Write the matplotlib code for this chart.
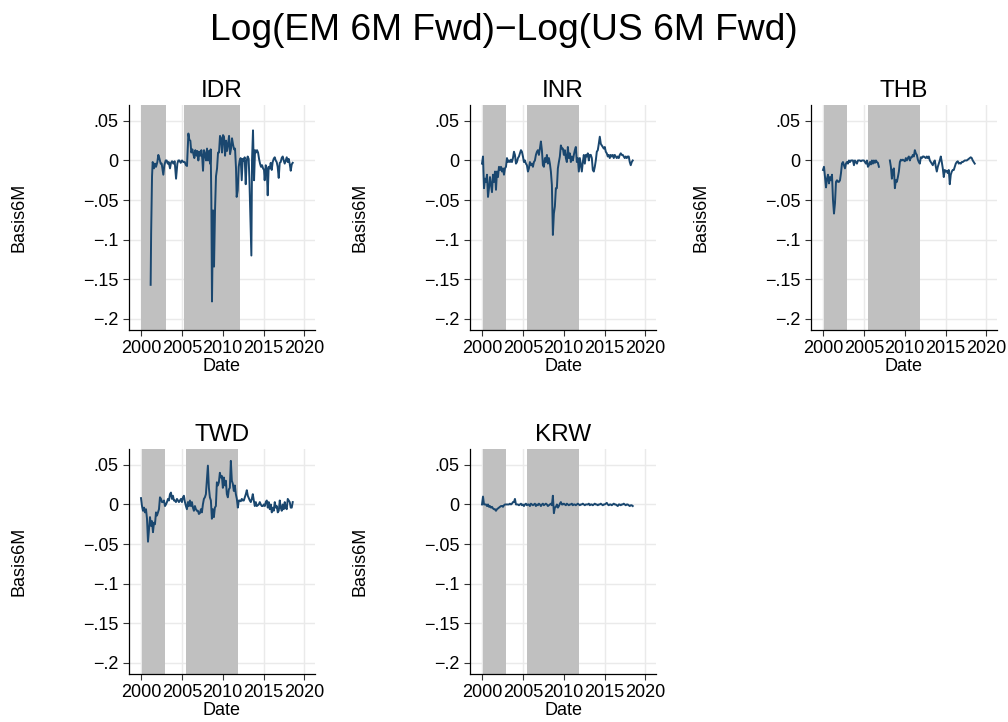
import numpy as np
import matplotlib
matplotlib.use("Agg")
import matplotlib.pyplot as plt

plt.rcParams['font.family'] = ['Liberation Sans', 'DejaVu Sans']

# ---- data ----
# IDR: irregular sample times (decimal years)
idr_t = [2001.18, 2001.24, 2001.35, 2001.43, 2001.51, 2001.59, 2001.71, 2001.84, 2002.0, 2002.12,
         2002.24, 2002.41, 2002.53, 2002.73, 2002.86, 2003.02, 2003.14, 2003.27, 2003.39, 2003.55,
         2003.67, 2003.8, 2003.96, 2004.12, 2004.29, 2004.45, 2004.57, 2004.69, 2004.86, 2005.02,
         2005.18, 2005.35, 2005.51, 2005.63, 2005.8, 2005.92, 2006.04, 2006.16, 2006.29, 2006.41,
         2006.53, 2006.65, 2006.78, 2006.9, 2007.02, 2007.14, 2007.27, 2007.39, 2007.51, 2007.59,
         2007.71, 2007.84, 2007.96, 2008.08, 2008.2, 2008.33, 2008.45, 2008.53, 2008.61, 2008.69,
         2008.82, 2008.94, 2009.06, 2009.18, 2009.31, 2009.43, 2009.55, 2009.67, 2009.8, 2009.92,
         2010.04, 2010.16, 2010.29, 2010.41, 2010.53, 2010.65, 2010.78, 2010.9, 2011.02, 2011.14,
         2011.27, 2011.39, 2011.51, 2011.63, 2011.71, 2011.84, 2011.96, 2012.08, 2012.2, 2012.33,
         2012.45, 2012.57, 2012.69, 2012.82, 2012.94, 2013.06, 2013.18, 2013.27, 2013.39, 2013.51,
         2013.59, 2013.71, 2013.84, 2013.96, 2014.08, 2014.2, 2014.33, 2014.45, 2014.57, 2014.69,
         2014.82, 2014.94, 2015.06, 2015.14, 2015.27, 2015.39, 2015.51, 2015.63, 2015.76, 2015.88,
         2016.0, 2016.12, 2016.24, 2016.37, 2016.49, 2016.61, 2016.73, 2016.86, 2016.98, 2017.1,
         2017.22, 2017.35, 2017.47, 2017.59, 2017.71, 2017.84, 2017.96, 2018.08, 2018.2, 2018.33,
         2018.45, 2018.57]
idr_v = [-.157, -.092, -.020, -.002, -.006, -.010, -.004, -.008, -.002, .007,
         .003, -.004, -.004, -.018, -.006, 0, 0, -.004, -.002, -.010,
         -.003, -.001, -.004, -.001, -.023, -.004, 0, 0, -.003, 0,
         -.002, -.002, -.006, -.007, .034, .026, .025, .010, .014, .008,
         .003, .013, .006, .012, 0, .011, .006, .013, .001, -.013,
         .013, .008, 0, .015, 0, .012, -.004, .014, -.05, -.178,
         -.063, -.134, -.063, -.020, -.010, .010, .010, .031, .028, .010,
         .032, .030, .006, .025, .012, .020, .031, .008, .015, .028,
         .020, .014, .015, -.010, -.046, -.038, -.008, 0, .003, -.025,
         .002, 0, .004, -.030, 0, .005, .002, -.024, -.07, -.120,
         0, .038, -.025, .013, .010, .013, .010, .002, -.004, -.008,
         -.006, -.010, -.012, -.025, -.006, -.010, -.044, -.008, -.010, -.003,
         -.012, -.002, .002, .004, 0, -.002, -.008, -.022, -.003, -.002,
         .003, .005, 0, -.004, 0, .004, -.002, .002, -.004, -.013,
         -.005, -.003]

# the other four currencies are sampled on a regular grid from 2000.0
step = 0.1222

inr_v = [-.004, .005, -.035, -.023, -.027, -.018, -.046, -.035, -.021, -.031,
         -.040, -.018, -.027, -.014, -.037, -.014, -.021, -.008, -.012, -.008,
         -.014, -.010, -.018, -.010, -.008, .003, -.002, 0, -.002, .001,
         -.002, .003, .011, .007, -.004, -.002, .003, .005, .009, .013,
         .011, .005, -.002, 0, -.004, -.006, -.014, -.010, -.002, -.006,
         -.004, -.008, -.002, 0, .007, .011, .013, .007, .015, .024,
         .013, -.006, -.008, .003, -.002, .007, -.004, .003, -.004, -.014,
         -.031, -.094, -.067, -.058, -.035, -.035, -.010, -.002, .005, .019,
         .015, .015, .007, .013, .003, -.002, .017, .003, .009, -.002,
         .005, 0, .007, .013, .017, -.002, .003, -.014, .003, -.006,
         -.014, -.002, .007, -.004, .007, .005, .009, 0, .007, .007,
         .003, -.012, -.014, -.008, 0, .011, .013, .021, .030, .021,
         .019, .017, .015, .017, .011, .009, .005, .007, .003, .007,
         .005, .007, .003, .007, .005, .003, .005, .003, .007, .009,
         .007, .007, .005, .003, .005, .003, .005, .005, -.002, -.006,
         -.002, 0]

nan = np.nan
thb_v = [-.012, -.008, -.021, -.034, -.023, -.018, -.029, -.021, -.025, -.018,
         -.050, -.067, -.054, -.027, -.025, -.027, -.027, -.025, -.016, -.004,
         -.002, -.006, -.010, -.004, -.002, -.004, 0, -.002, 0, 0,
         0, -.006, 0, -.002, -.004, 0, 0, 0, -.001, 0,
         0, 0, -.002, -.004, 0, -.008, -.006, -.002, -.005, 0,
         -.004, 0, -.003, 0, -.002, -.003, -.008, nan, nan, nan,
         nan, nan, nan, nan, nan, nan, nan, 0, -.008, -.023,
         -.012, -.010, -.035, -.025, -.027, -.021, -.014, -.002, .001, 0,
         .001, 0, -.001, .003, 0, .003, .005, 0, .004, .004,
         .007, .005, .013, .009, .007, .001, -.002, -.004, .004, .003,
         .005, .005, .004, .003, .005, .003, .005, 0, -.002, -.004,
         -.006, -.002, 0, -.008, -.014, -.008, -.004, 0, .005, -.002,
         -.010, -.021, -.012, -.014, -.013, -.016, -.012, -.030, -.018, -.014,
         -.012, -.012, -.008, -.004, -.002, -.001, -.004, -.003, -.004, -.002,
         -.002, -.001, 0, 0, 0, .001, .002, .003, .004, .003,
         0, -.002, -.004]

twd_v = [.008, -.002, -.008, -.004, -.010, -.006, -.018, -.047, -.031, -.016,
         -.027, -.021, -.035, -.023, -.025, -.010, -.014, -.010, -.006, .009,
         .007, .003, .003, .005, -.002, 0, .003, .007, .005, .013,
         .015, .007, .011, .005, .005, .003, .007, .005, .003, .005,
         .007, .003, .009, .011, .003, -.002, -.006, .003, -.002, .005,
         -.002, .003, -.004, -.008, -.002, -.006, -.008, -.008, -.012, -.011,
         -.006, -.010, 0, .007, .009, .013, .031, .049, .021, .009,
         .005, -.018, -.006, -.016, -.004, -.002, .028, .024, .028, .040,
         .034, .036, .021, .034, .024, .030, .013, .009, .019, .021,
         .055, .030, .026, .017, .024, .013, .007, -.004, .005, .005,
         .004, .007, .005, .005, .009, .013, .018, .011, .008, .005,
         .003, .007, .013, .005, -.002, .003, -.002, -.001, 0, .003,
         0, -.002, -.002, 0, -.002, .003, .005, -.004, .003, -.006,
         0, -.010, -.004, -.008, .003, -.004, -.002, -.010, -.008, .005,
         -.004, -.008, 0, -.006, .003, -.004, -.006, .007, .005, .003,
         -.004, -.004, .003]

krw_v = [0, .010, 0, 0, 0, -.002, 0, -.003, -.002, -.004,
         -.003, -.005, -.006, -.006, -.008, -.006, -.005, -.004, -.003, -.002,
         -.002, -.003, -.001, 0, 0, 0, 0, 0, .001, 0,
         .001, .003, .003, .007, 0, 0,
         0, -.001, 0, .001, -.001, 0, -.002, 0, .001, -.001,
         0, 0, -.002, .001, 0, -.001, 0, .001, -.002, 0,
         -.001, .001, 0, -.002, 0, .001, -.001, 0, .001, 0,
         -.002, -.001, 0, .001, -.001,
         .011, -.011, -.004, -.003, 0, -.004, -.002, .001, .003, 0,
         0, .001, 0, -.001, .001, 0, -.001, 0, 0, .001,
         -.001, 0, 0, -.001, 0, .001, 0, -.001, 0, 0,
         .001, 0, -.001, 0, 0, 0, .001, -.001, 0, 0,
         -.001, 0, .001, 0, 0, -.001, 0, 0, .001, 0,
         -.001, 0, 0, .001, .002, 0, -.001, 0, 0, -.001,
         0, .001, 0, 0, -.001, -.002, 0, 0, -.001, 0,
         0, .001, 0, -.001, 0, 0, -.001, -.002, -.001, -.001,
         -.002]

# shaded periods per currency
idr_bands = [(2000.0, 2003.05), (2005.27, 2012.1)]
other_bands = [(2000.07, 2002.93), (2005.5, 2011.92)]

x_ticks = [2000, 2005, 2010, 2015, 2020]
y_ticks = [0.05, 0, -0.05, -0.1, -0.15, -0.2]
y_tick_labels = ['.05', '0', '\u2212.05', '\u2212.1', '\u2212.15', '\u2212.2']

# ---- styling ----
W, H = 1008, 722
NAVY = '#1a476f'
SHADE = '#c0c0c0'
GRID = '#eaeaea'
FS = 13


def px_axes(fig, left, top, width=186, height=225):
    return fig.add_axes([left / W, 1 - (top + height) / H, width / W, height / H])


def draw_panel(ax, name, t, v, bands):
    ax.set_xlim(1998.53, 2021.3)
    ax.set_ylim(-0.214, 0.070)
    for a, b in bands:
        ax.axvspan(a, b, color=SHADE, lw=0, zorder=1)
    ax.plot(t, v, color=NAVY, lw=1.4, zorder=3)

    ax.set_xticks(x_ticks)
    ax.set_xticklabels([str(x) for x in x_ticks])
    ax.set_yticks(y_ticks)
    ax.set_yticklabels(y_tick_labels)
    ax.grid(True, color=GRID, lw=1.0)
    ax.set_axisbelow(True)

    for side in ('top', 'right'):
        ax.spines[side].set_visible(False)
    for side in ('left', 'bottom'):
        ax.spines[side].set_linewidth(0.9)
    ax.tick_params(direction='out', length=4.5, width=0.8, labelsize=FS, pad=3,
                   color='#333333')

    ax.set_title(name, fontsize=17.5, pad=6)
    ax.set_xlabel('Date', fontsize=FS, labelpad=0.5)
    ax.set_ylabel('Basis6M', fontsize=FS)
    ax.yaxis.set_label_coords(-0.548, 0.5)


fig = plt.figure(figsize=(W / 100, H / 100), dpi=100)

reg = lambda n: 2000.0 + step * np.arange(n)

draw_panel(px_axes(fig, 129, 105), 'IDR', idr_t, idr_v, idr_bands)
draw_panel(px_axes(fig, 470, 105), 'INR', reg(len(inr_v)), inr_v, other_bands)
draw_panel(px_axes(fig, 811, 105), 'THB', reg(len(thb_v)), thb_v, other_bands)
draw_panel(px_axes(fig, 129, 449), 'TWD', reg(len(twd_v)), twd_v, other_bands)
draw_panel(px_axes(fig, 470, 449), 'KRW', reg(len(krw_v)), krw_v, other_bands)

fig.text(0.5, 1 - 30 / H, 'Log(EM 6M Fwd)\u2212Log(US 6M Fwd)',
         ha='center', va='center', fontsize=26.8)

fig.savefig('out.png', dpi=100)
